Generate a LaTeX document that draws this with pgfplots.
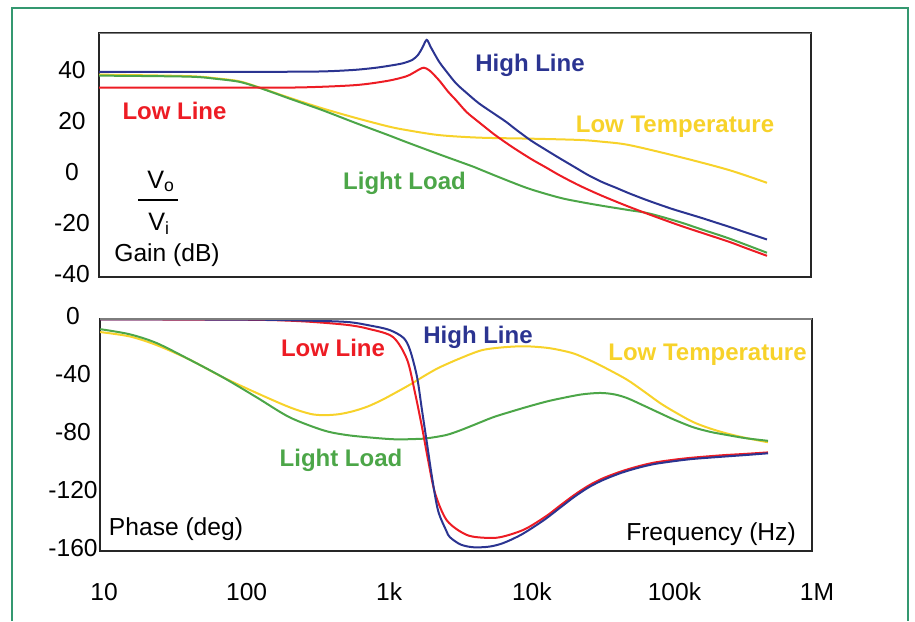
\documentclass[border=0pt]{standalone}
\usepackage{fontspec}
\setmainfont{Liberation Sans}
\usepackage{pgfplots}
\pgfplotsset{compat=1.18}

\definecolor{hiline}{RGB}{43,52,145}
\definecolor{loline}{RGB}{237,28,36}
\definecolor{lightld}{RGB}{76,166,72}
\definecolor{lowtemp}{RGB}{247,210,42}
\definecolor{framegreen}{RGB}{52,152,112}
\definecolor{boxgray}{RGB}{125,125,125}

\newcommand\lab{\fontsize{12}{14}\selectfont\bfseries}
\newcommand\txt{\fontsize{12.3}{14}\selectfont}

\begin{document}
\begin{tikzpicture}
\begin{scope}[x=0.5pt, y=-0.5pt]
  \useasboundingbox (0,0) rectangle (915,621);
\end{scope}

% gain
\begin{axis}[scale only axis, width=356pt, height=122pt,
  at={(49.5pt,-16.5pt)}, anchor=north west,
  xmode=log, xmin=9.37, xmax=9.22e5,
  ymin=-41.1, ymax=54.5, xtick=\empty,
  axis line style={black!85, line width=0.6pt},
  major tick length=0pt, minor tick length=0pt,
  ytick={-40,-20,0,20,40}, yticklabels={-40,-20,0,20,40},
  yticklabel style={anchor=center, xshift=-13.5pt, font=\txt}]
\addplot[lowtemp, line width=1pt, smooth] coordinates {(9.4,38.2) (39.8,37.6) (63.1,36.7) (89.9,35.6) (118,33.6) (201,29.2) (344,25) (594,21.2) (1000,17.9) (1334,16.5) (2270,14.5) (4335,13.5) (10000,13.1) (21777,12.6) (31623,11.9) (48865,10.6) (109396,6.0) (245471,0.8) (452898,-4.2)};
\addplot[lightld, line width=1pt, smooth] coordinates {(9.4,37.8) (39.8,37.4) (63.1,36.5) (89.9,35.4) (118,33.5) (158.5,31) (201,28.9) (344,24.3) (594,19.2) (1000,14.5) (1334,11.8) (2270,7) (3873,2.3) (4335,1.2) (6310,-2.5) (9705,-6.5) (15849,-10) (21777,-11.6) (31623,-13.2) (48865,-14.9) (67453,-16.2) (109396,-19.5) (158489,-22.5) (245471,-26) (452898,-31.6)};
\addplot[loline, line width=1pt, smooth] coordinates {(9.4,33.1) (100,33.1) (251,33.2) (594,34.1) (1000,35.8) (1334,37.5) (1479,38.7) (1660,40.3) (1778,40.9) (1950,39.8) (2270,36) (2630,31.5) (2985,28.2) (3548,23.5) (4335,19.5) (5623,14.5) (7379,9.9) (10000,5.2) (12794,1.8) (15849,-1.2) (21777,-5.2) (31623,-9.3) (48865,-13.6) (72444,-17.2) (109396,-20.8) (158489,-23.8) (245471,-27.3) (316228,-29.6) (452898,-32.8)};
\addplot[hiline, line width=1pt, smooth] coordinates {(9.4,39.3) (100,39.3) (316,39.4) (562,40) (794,40.8) (1000,41.6) (1259,42.6) (1479,44) (1622,46) (1738,48.8) (1862,51.8) (1995,48.8) (2270,43.3) (2512,40) (2985,34.8) (3548,31) (4335,26.9) (5623,22.6) (6699,19.7) (7943,16.5) (10000,12.4) (12589,8.9) (15849,5.5) (19953,2.2) (25119,-1.1) (31623,-3.9) (39811,-6.2) (48865,-8.3) (63096,-10.7) (79433,-12.7) (100000,-14.6) (125893,-16.3) (158489,-18) (199526,-19.8) (251189,-21.6) (316228,-23.5) (452898,-26.4)};
\draw[boxgray, line width=0.9pt] (rel axis cs:0,1) -- (rel axis cs:1,1);
\end{axis}

% phase
\begin{axis}[scale only axis, width=356pt, height=116pt,
  at={(50pt,-159.5pt)}, anchor=north west,
  xmode=log, xmin=9.37, xmax=9.22e5,
  ymin=-160, ymax=0, clip=false,
  axis line style={black!85, line width=0.6pt},
  major tick length=0pt, minor tick length=0pt,
  ytick={-160,-120,-80,-40,0}, yticklabels={-160,-120,-80,-40,0},
  yticklabel style={anchor=center, xshift=-13.5pt, yshift=1.5pt, font=\txt},
  xtick={10,100,1000,10000,100000}, xticklabels={10,100,1k,10k,100k},
  xticklabel style={anchor=center, yshift=-20.5pt, font=\txt}]
\addplot[lowtemp, line width=1pt, smooth] coordinates {(9.4,-9) (15.1,-12) (23.4,-18) (39.8,-28) (67.6,-40) (117.5,-51) (199.5,-60.8) (281.8,-65.5) (354.8,-66.3) (446.7,-65.6) (562,-63.5) (708,-60.3) (891,-55.8) (1122,-50.5) (1413,-45) (1778,-39) (2239,-33.5) (3162,-27) (4467,-21.5) (6310,-19.5) (8913,-18.8) (12589,-19.8) (15849,-21.5) (19953,-24) (26915,-29.5) (35481,-35.5) (46774,-42) (60256,-49.5) (79433,-58) (100000,-64) (134896,-71) (177828,-75.5) (234423,-79) (316228,-82) (452898,-85)};
\addplot[lightld, line width=1pt, smooth] coordinates {(9.4,-7) (15.1,-10.5) (23.4,-16.6) (39.8,-28) (67.6,-40) (117.5,-54) (199.5,-67.7) (343.6,-76.7) (501,-80) (794,-82) (1122,-83) (1585,-82.7) (1862,-82.2) (2512,-80) (3162,-76.7) (3981,-72.8) (5370,-67.7) (7079,-64) (9333,-60.5) (12589,-57) (15849,-54.8) (22387,-52) (30200,-51) (38019,-52) (46774,-54.6) (60256,-59.5) (79433,-65) (100000,-69.5) (134896,-74.6) (177828,-77.8) (234423,-80) (316228,-82.2) (452898,-84)};
\addplot[loline, line width=1pt, smooth] coordinates {(9.4,-0.3) (100,-0.5) (237,-1.5) (501,-4) (733,-7) (1064,-12.5) (1334,-28) (1517,-51) (1698,-74.6) (1871,-97) (2094,-120) (2541,-139) (3516,-149) (5012,-151) (6310,-150) (8913,-145) (12589,-136) (15849,-128.5) (19953,-121.2) (25119,-114.8) (31623,-109.8) (42658,-105) (56234,-101.5) (72444,-99) (100000,-97) (134896,-95.6) (213796,-94) (316228,-93) (452898,-92)};
\addplot[hiline, line width=1pt, smooth] coordinates {(9.4,-0.3) (100,-0.4) (237,-1) (501,-2) (733,-4.5) (1000,-7.5) (1259,-13) (1400,-21.5) (1567,-40) (1698,-63) (1841,-86) (1995,-109) (2198,-132) (2512,-146) (2667,-150.5) (3162,-155.5) (3873,-157.4) (5012,-157) (6310,-154.5) (8511,-148.5) (12023,-139) (15849,-130) (19953,-122.5) (25119,-116) (31623,-111) (42658,-106) (56234,-102.5) (72444,-100) (100000,-98) (134896,-96.5) (213796,-95) (316228,-93.8) (452898,-92.6)};
\draw[boxgray, line width=0.9pt] (rel axis cs:0,1) -- (rel axis cs:1,1);
\node[font=\txt, anchor=center, yshift=-20.5pt] at (axis cs:1e6,-160) {1M};
\end{axis}

\begin{scope}[x=0.5pt, y=-0.5pt]
  \draw[framegreen, line width=0.9pt] (12,621) -- (12,8) -- (908,8) -- (908,621);
  % gain panel labels
  \node[anchor=base, text=hiline, font=\lab] at (530,71.7) {High Line};
  \node[anchor=base, text=loline, font=\lab] at (174.5,119.3) {Low Line};
  \node[anchor=base, text=lowtemp, font=\lab] at (675,132.3) {Low Temperature};
  \node[anchor=base, text=lightld, font=\lab] at (404.5,189) {Light Load};
  \node[anchor=base west, inner sep=0pt, font=\fontsize{12.6}{14}\selectfont] at (147,188) {V\textsubscript{o}};
  \draw[black, line width=0.8pt] (138,200) -- (178,200);
  \node[anchor=base west, inner sep=0pt, font=\fontsize{12.6}{14}\selectfont] at (148,230) {V\textsubscript{i}};
  \node[anchor=base, font=\txt] at (167,261.7) {Gain (dB)};
  % phase panel labels
  \node[anchor=base, text=hiline, font=\lab] at (478,343.3) {High Line};
  \node[anchor=base, text=loline, font=\lab] at (333,356) {Low Line};
  \node[anchor=base, text=lowtemp, font=\lab] at (707.5,360.7) {Low Temperature};
  \node[anchor=base, text=lightld, font=\lab] at (341,466) {Light Load};
  \node[anchor=base, font=\txt] at (176,535) {Phase (deg)};
  \node[anchor=base, font=\txt] at (711,540) {Frequency (Hz)};
\end{scope}
\end{tikzpicture}
\end{document}
